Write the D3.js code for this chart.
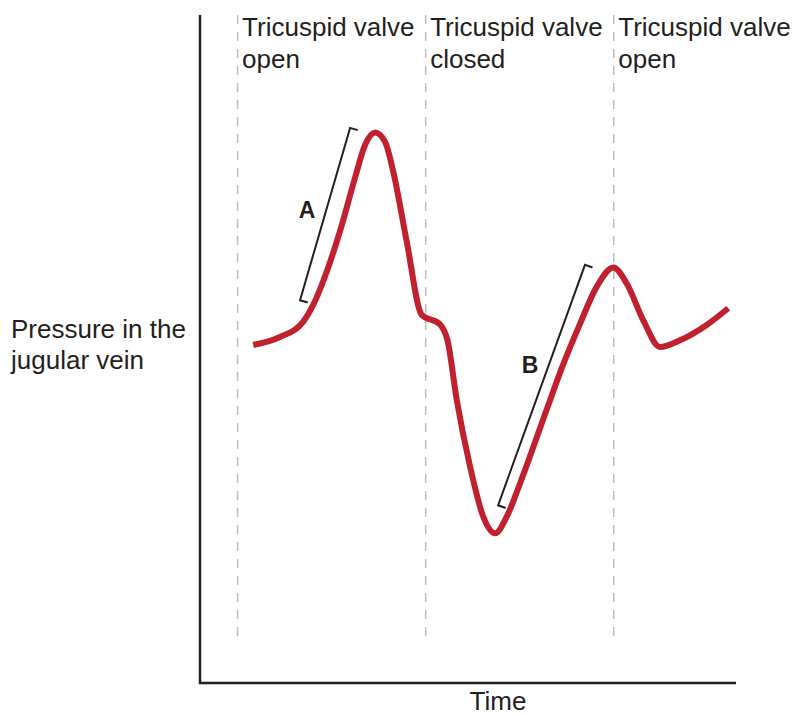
<!DOCTYPE html>
<html>
<head>
<meta charset="utf-8">
<script src="https://cdn.jsdelivr.net/npm/d3@7"></script>
<style>
  body { margin: 0; background: #fff; }
  text { font-family: "Liberation Sans", Arial, sans-serif; fill: #231f20; }
</style>
</head>
<body>
<div class="chart"></div>
<script>
// data (time in phase units, pressure in arbitrary units)
var time = [0.083, 0.225, 0.349, 0.402, 0.474, 0.544, 0.624, 0.677, 0.731, 0.784, 0.828, 0.899, 0.979,
            1.076, 1.116, 1.165, 1.236, 1.306, 1.369, 1.431, 1.502, 1.643, 1.723, 1.821, 1.909, 1.998,
            2.069, 2.157, 2.246, 2.352, 2.494, 2.609];
var pressure = [50.6, 51.8, 54.1, 56.6, 61.6, 67.6, 75.6, 80.5, 82.4, 81.0, 76.5, 66.1, 55.1,
                53.7, 51.3, 42.4, 32.4, 24.9, 22.4, 24.9, 29.9, 40.9, 47.1, 53.8, 59.3, 62.2,
                59.8, 54.3, 50.3, 51.3, 53.6, 56.1];
var phaseBounds = [0, 1, 2];
var phaseLabels = [["Tricuspid valve", "open"], ["Tricuspid valve", "closed"], ["Tricuspid valve", "open"]];
var bracketNames = ["A", "B"];
var bracketStart = [[0.332, 57.3], [1.385, 26.6]];
var bracketEnd = [[0.598, 83.1], [1.847, 62.6]];
var bracketLabelPos = [[0.369, 70.8], [1.555, 47.6]];
var yTitle = ["Pressure in the", "jugular vein"];
var xTitle = "Time";

var svgx = 799, svgy = 715;
var ink = "#231f20";

var svg = d3.select(".chart").append("svg")
    .attr("width", svgx)
    .attr("height", svgy);

var xscale = d3.scaleLinear().domain([-0.2, 2.65]).range([200, 736]);
var yscale = d3.scaleLinear().domain([0, 100]).range([683, 15]);

// dashed phase lines
svg.selectAll(".phase")
    .data(phaseBounds)
    .enter()
    .append("line")
    .attr("x1", function(d) { return xscale(d); })
    .attr("x2", function(d) { return xscale(d); })
    .attr("y1", 15)
    .attr("y2", 640)
    .attr("stroke", "#bdbdbd")
    .attr("stroke-width", 1.5)
    .attr("stroke-dasharray", "9,8");

// phase labels
phaseLabels.forEach(function(lines, i) {
    var t = svg.append("text")
        .attr("x", xscale(phaseBounds[i]) + 4.5)
        .attr("y", 36)
        .attr("font-size", "26px");
    lines.forEach(function(s, j) {
        t.append("tspan")
            .attr("x", xscale(phaseBounds[i]) + 4.5)
            .attr("dy", j === 0 ? 0 : 31.5)
            .text(s);
    });
});

// axes (no ticks)
svg.append("path")
    .attr("d", "M" + xscale.range()[0] + "," + yscale.range()[1] +
               "V" + yscale.range()[0] + "H" + xscale.range()[1])
    .attr("fill", "none")
    .attr("stroke", ink)
    .attr("stroke-width", 2.5);

// pressure curve
var pts = time.map(function(t, i) { return [t, pressure[i]]; });
var line = d3.line()
    .x(function(d) { return xscale(d[0]); })
    .y(function(d) { return yscale(d[1]); })
    .curve(d3.curveMonotoneX);

svg.append("path")
    .datum(pts)
    .attr("d", line)
    .attr("fill", "none")
    .attr("stroke", "#c1202e")
    .attr("stroke-width", 6)
    .attr("stroke-linejoin", "round")
    .attr("stroke-linecap", "butt");

// brackets
bracketNames.forEach(function(name, i) {
    var x1 = xscale(bracketStart[i][0]), y1 = yscale(bracketStart[i][1]);
    var x2 = xscale(bracketEnd[i][0]), y2 = yscale(bracketEnd[i][1]);
    var dx = x2 - x1, dy = y2 - y1, len = Math.sqrt(dx * dx + dy * dy);
    var px = -dy / len * 8, py = dx / len * 8;
    if (px < 0) { px = -px; py = -py; }
    svg.append("path")
        .attr("d", "M" + (x1 + px) + "," + (y1 + py) + "L" + x1 + "," + y1 +
                   "L" + x2 + "," + y2 + "L" + (x2 + px) + "," + (y2 + py))
        .attr("fill", "none")
        .attr("stroke", ink)
        .attr("stroke-width", 2);
    svg.append("text")
        .attr("x", xscale(bracketLabelPos[i][0]))
        .attr("y", yscale(bracketLabelPos[i][1]))
        .attr("dy", "0.35em")
        .attr("text-anchor", "middle")
        .attr("font-size", "23px")
        .attr("font-weight", "bold")
        .text(name);
});

// axis titles
var yt = svg.append("text").attr("font-size", "26px");
yTitle.forEach(function(s, j) {
    yt.append("tspan")
        .attr("x", 11)
        .attr("y", 338 + j * 31)
        .text(s);
});

svg.append("text")
    .attr("x", 498)
    .attr("y", 710)
    .attr("text-anchor", "middle")
    .attr("font-size", "26px")
    .text(xTitle);
</script>
</body>
</html>
